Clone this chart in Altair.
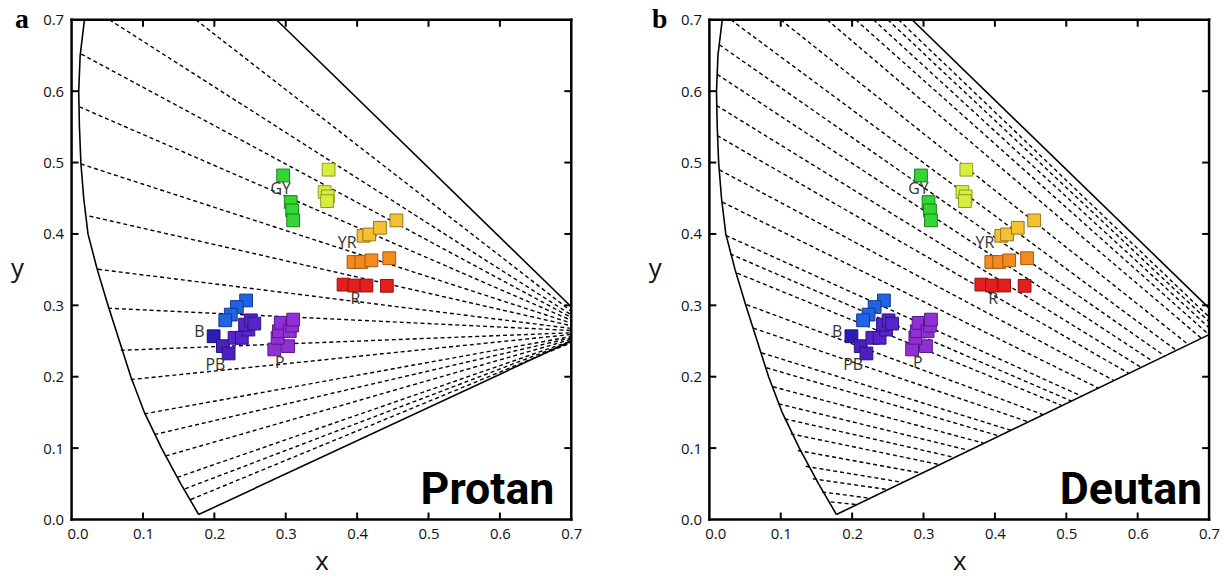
import altair as alt
import pandas as pd

# ---------------- data ----------------
tick_vals = [0.0, 0.1, 0.2, 0.3, 0.4, 0.5, 0.6, 0.7]
inner_ticks = [0.1, 0.2, 0.3, 0.4, 0.5, 0.6]

# left spectral locus (top -> bottom)
locus_x = [0.018, 0.012, 0.010, 0.011, 0.013, 0.017, 0.023, 0.036, 0.051, 0.067, 0.083, 0.102, 0.126, 0.153, 0.178]
locus_y = [0.700, 0.650, 0.600, 0.550, 0.500, 0.450, 0.400, 0.350, 0.300, 0.250, 0.200, 0.150, 0.100, 0.050, 0.007]

# purple line and long-wave locus, panel a / panel b
a_purple_x = [0.178, 0.700]
a_purple_y = [0.007, 0.250]
a_red_x = [0.287, 0.700]
a_red_y = [0.700, 0.298]
b_purple_x = [0.178, 0.700]
b_purple_y = [0.007, 0.259]
b_red_x = [0.284, 0.700]
b_red_y = [0.700, 0.296]

# protan confusion lines: start points, all running to the protan copunctal point
protan_x0 = [0.053, 0.174, 0.0135, 0.011, 0.013, 0.025, 0.037, 0.051, 0.069, 0.083, 0.102, 0.116, 0.132, 0.148, 0.159, 0.167]
protan_y0 = [0.700, 0.700, 0.652, 0.578, 0.498, 0.425, 0.3505, 0.296, 0.237, 0.196, 0.148, 0.119, 0.089, 0.059, 0.043, 0.028]
protan_end = [0.737, 0.263]

# deutan confusion lines: start and end points
deutan_x0 = [0.030, 0.100, 0.165, 0.205, 0.230, 0.250, 0.265,
             0.014, 0.011, 0.010, 0.011, 0.014, 0.018, 0.023, 0.029, 0.039, 0.052, 0.0615, 0.073,
             0.080, 0.089, 0.097, 0.1056, 0.114, 0.124, 0.135, 0.145, 0.158, 0.170]
deutan_y0 = [0.700, 0.700, 0.700, 0.700, 0.700, 0.700, 0.700,
             0.665, 0.6235, 0.580, 0.5376, 0.4898, 0.4447, 0.398, 0.372, 0.345, 0.301, 0.268, 0.2335,
             0.2126, 0.186, 0.162, 0.141, 0.120, 0.0966, 0.0745, 0.057, 0.0385, 0.0246]
deutan_x1 = [0.654, 0.671, 0.689, 1.08, 1.08, 1.08, 1.08,
             0.638, 0.622, 0.605, 0.587, 0.566, 0.545, 0.521, 0.507, 0.493, 0.467, 0.446, 0.422,
             0.406, 0.384, 0.363, 0.343, 0.322, 0.297, 0.271, 0.249, 0.224, 0.205]
deutan_y1 = [0.237, 0.245, 0.254, -0.08, -0.08, -0.08, -0.08,
             0.229, 0.221, 0.213, 0.205, 0.195, 0.184, 0.173, 0.166, 0.160, 0.147, 0.137, 0.125,
             0.117, 0.107, 0.097, 0.087, 0.077, 0.065, 0.052, 0.042, 0.030, 0.021]

# Munsell colour samples (same chromaticities in both panels)
sq_x = [0.2964, 0.307, 0.309, 0.3104,
        0.360, 0.3545, 0.359, 0.358,
        0.409, 0.417, 0.432, 0.455,
        0.395, 0.406, 0.420, 0.445,
        0.381, 0.396, 0.413, 0.4416,
        0.2445, 0.2315, 0.223, 0.2153,
        0.199,
        0.212, 0.220,
        0.2283, 0.2385, 0.2477, 0.243, 0.251, 0.256,
        0.284, 0.3034, 0.2886, 0.2905, 0.293, 0.3057, 0.309, 0.3104]
sq_y = [0.4819, 0.4447, 0.433, 0.419,
        0.490, 0.4587, 0.4526, 0.446,
        0.3974, 0.3993, 0.4086, 0.419,
        0.3607, 0.3607, 0.363, 0.366,
        0.329, 0.3277, 0.3277, 0.3273,
        0.3068, 0.2976, 0.287, 0.279,
        0.2567,
        0.2428, 0.2326,
        0.2545, 0.2545, 0.266, 0.273, 0.279, 0.2744,
        0.2382, 0.2428, 0.2545, 0.2637, 0.2754, 0.2637, 0.2716, 0.280]
sq_group = (["GY"] * 4 + ["Y"] * 4 + ["YR"] * 4 + ["O"] * 4 + ["R"] * 4 +
            ["B"] * 4 + ["Bd"] + ["PB"] * 2 + ["V"] * 6 + ["P"] * 8)

group_names = ["GY", "Y", "YR", "O", "R", "B", "Bd", "PB", "V", "P"]
group_fill = ["#33d633", "#d7ee3e", "#f3c234", "#f58a1f", "#e41d1d", "#2263e6", "#2a1eb8", "#4a20c0", "#5624c8", "#902fd6"]
group_stroke = ["#1b7d1b", "#8c9a1e", "#9b7414", "#a4560e", "#8e0f0f", "#11388f", "#170f72", "#2a127a", "#341380", "#561a86"]

lab_text = ["GY", "YR", "R", "B", "PB", "P"]
lab_x = [0.293, 0.386, 0.3975, 0.179, 0.2014, 0.2918]
lab_y = [0.463, 0.3868, 0.3088, 0.2623, 0.216, 0.2196]

# ---------------- building ----------------
W = 503
H = 503
FONT = "Open Sans"

xs = alt.Scale(domain=[0, 0.7], nice=False, zero=False)
ys = alt.Scale(domain=[0, 0.7], nice=False, zero=False)
x_axis = alt.Axis(values=tick_vals, format=".1f", title="x", ticks=False, tickSize=0, domain=False,
                  grid=False, labelPadding=7, labelFontSize=15, labelFont=FONT, labelColor="#111",
                  labelFlush=False, labelOverlap=False,
                  labelOffset={"condition": {"test": "datum.value === 0", "value": 6}, "value": 0},
                  titleFont=FONT, titleFontSize=26, titleFontWeight="normal", titleColor="#111",
                  titleY=55, titleBaseline="bottom")
y_axis = alt.Axis(values=tick_vals, format=".1f", title="y", ticks=False, tickSize=0, domain=False,
                  grid=False, labelPadding=8, labelFontSize=15, labelFont=FONT, labelColor="#111",
                  labelFlush=False, labelOverlap=False,
                  titleFont=FONT, titleFontSize=26, titleFontWeight="normal", titleColor="#111",
                  titleAngle=0, titleX=-55, titleY=258, titleAlign="center", titleBaseline="alphabetic")
X = alt.X("x:Q", scale=xs, axis=x_axis)
Y = alt.Y("y:Q", scale=ys, axis=y_axis)


def boundary_df(px, py, rx, ry):
    rows = []
    for i, (a, b) in enumerate(zip(locus_x, locus_y)):
        rows.append({"x": a, "y": b, "seg": "locus", "o": i})
    for i, (a, b) in enumerate(zip(px, py)):
        rows.append({"x": a, "y": b, "seg": "purple", "o": i})
    for i, (a, b) in enumerate(zip(rx, ry)):
        rows.append({"x": a, "y": b, "seg": "red", "o": i})
    return pd.DataFrame(rows)


def dashed_df(x0, y0, x1, y1):
    rows = []
    for i in range(len(x0)):
        rows.append({"x": x0[i], "y": y0[i], "id": i, "o": 0})
        rows.append({"x": x1[i], "y": y1[i], "id": i, "o": 1})
    return pd.DataFrame(rows)


sq_df = pd.DataFrame({"x": sq_x, "y": sq_y, "g": sq_group})
lab_df = pd.DataFrame({"x": lab_x, "y": lab_y, "t": lab_text})
tick_df = pd.DataFrame({"x": inner_ticks, "y": inner_ticks})
one_df = pd.DataFrame({"k": [0]})


def rule(width=2.5, opacity=1, **enc):
    return alt.Chart(one_df).mark_rule(color="black", strokeWidth=width, strokeCap="square",
                                       opacity=opacity).encode(**enc)


def panel(letter, word, word_x, bdf, ddf):
    bound = alt.Chart(bdf).mark_line(color="black", strokeWidth=1.6, clip=True).encode(
        x=X, y=Y, detail="seg:N", order="o:Q")
    dash = alt.Chart(ddf).mark_line(color="black", strokeWidth=1.4, strokeDash=[4, 3], clip=True).encode(
        x=X, y=Y, detail="id:N", order="o:Q")
    squares = alt.Chart(sq_df).mark_square(size=165, strokeWidth=1, opacity=1).encode(
        x=X, y=Y,
        fill=alt.Fill("g:N", scale=alt.Scale(domain=group_names, range=group_fill), legend=None),
        stroke=alt.Stroke("g:N", scale=alt.Scale(domain=group_names, range=group_stroke), legend=None))
    labels = alt.Chart(lab_df).mark_text(font=FONT, fontSize=16, color="#333", align="center",
                                         baseline="middle").encode(x=X, y=Y, text="t:N")
    t_bot = alt.Chart(tick_df).mark_rule(color="black", strokeWidth=2).encode(
        x=X, y=alt.value(H), y2=alt.value(H - 7))
    t_top = alt.Chart(tick_df).mark_rule(color="black", strokeWidth=2).encode(
        x=X, y=alt.value(0), y2=alt.value(7))
    t_left = alt.Chart(tick_df).mark_rule(color="black", strokeWidth=2).encode(
        y=Y, x=alt.value(0), x2=alt.value(7))
    t_right = alt.Chart(tick_df).mark_rule(color="black", strokeWidth=2).encode(
        y=Y, x=alt.value(W), x2=alt.value(W - 7))
    f_top = rule(x=alt.value(0), x2=alt.value(W), y=alt.value(0))
    f_bot = rule(x=alt.value(0), x2=alt.value(W), y=alt.value(H))
    f_left = rule(x=alt.value(0), y=alt.value(0), y2=alt.value(H))
    f_right = rule(x=alt.value(W), y=alt.value(0), y2=alt.value(H))
    # invisible guide that fixes the layout bounds
    g_tl = rule(width=1, opacity=0, x=alt.value(-80), y=alt.value(-30), y2=alt.value(H + 60))
    big = alt.Chart(pd.DataFrame({"t": [word]})).mark_text(
        font="Roboto", fontSize=45, fontWeight="bold", color="black", align="right",
        baseline="alphabetic").encode(text="t:N", x=alt.value(word_x), y=alt.value(487))
    let = alt.Chart(pd.DataFrame({"t": [letter]})).mark_text(
        font="Liberation Serif", fontSize=28, fontWeight="bold", color="black", align="center",
        baseline="alphabetic").encode(text="t:N", x=alt.value(-50), y=alt.value(8))
    return alt.layer(g_tl, bound, dash, squares, labels, t_bot, t_top, t_left, t_right,
                     f_top, f_bot, f_left, f_right, big, let).properties(width=W, height=H)


pa = panel("a", "Protan", 486, boundary_df(a_purple_x, a_purple_y, a_red_x, a_red_y),
           dashed_df(protan_x0, protan_y0, [protan_end[0]] * len(protan_x0), [protan_end[1]] * len(protan_y0)))
pb = panel("b", "Deutan", 496, boundary_df(b_purple_x, b_purple_y, b_red_x, b_red_y),
           dashed_df(deutan_x0, deutan_y0, deutan_x1, deutan_y1))

chart = alt.hconcat(pa, pb, spacing=139, bounds="flush").properties(
    padding={"left": -16, "top": -20, "right": 0, "bottom": -8}
).configure_view(strokeWidth=0)

chart.save("out.html", embed_options={"renderer": "svg", "actions": False})
